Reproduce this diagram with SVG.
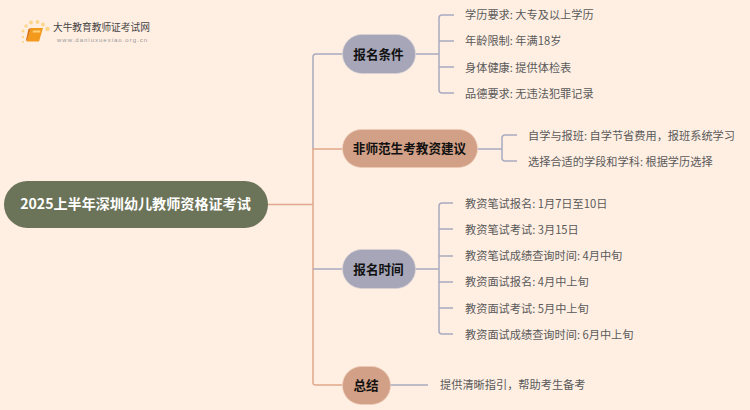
<svg xmlns="http://www.w3.org/2000/svg" width="750" height="410" viewBox="0 0 750 410">
<style>
text{font-family:"Noto Sans CJK SC","Noto Sans",sans-serif}
.leaf{font-size:11.200px;fill:#5a5a5a}
.main{font-size:12.600px;font-weight:700;fill:#111;text-anchor:middle}
.b{fill:none;stroke:#a8aabf;stroke-width:1.5}
.o{fill:none;stroke:#e0a88c;stroke-width:1.5}
.p{fill:#a6a6b8;stroke:#d8d2d6;stroke-width:.7}
.t{fill:#d2a086;stroke:#ecccb8;stroke-width:.7}
</style>
<rect width="750" height="410" fill="#ffefe3"/>
<g id="logo">
<g fill="#fbd58a"><circle cx="23" cy="31" r="1.5"/><circle cx="26" cy="26" r="1.7"/><circle cx="31" cy="22.500" r="1.900"/><circle cx="37.500" cy="22" r="1.900"/><circle cx="43" cy="24.500" r="1.900"/><circle cx="47.500" cy="29" r="2.200"/><circle cx="23" cy="37" r="1.200"/><circle cx="23" cy="42" r="1"/></g>
<path d="M31 28H43L39 41.500H27Z" fill="#f39a1c"/>
<path d="M27 41.500L31 28L28.500 29L26 40Z" fill="#d9720f"/>
<path d="M33 30.500H40.500L40 32.500H32.500Z" fill="#ffd27a"/>
<text x="53" y="31" font-size="9.700" fill="#444">大牛教育教师证考试网</text>
<text x="57" y="41.500" font-size="6" letter-spacing="1" fill="#999" style="font-family:'Liberation Sans',sans-serif">www.daniuxuexiao.org.cn</text>
</g>
<g id="connectors">
<path class="o" d="M268 204.500H313"/>
<path class="b" d="M342 54H316Q313 54 313 57V149"/>
<path class="o" d="M342 149H313V383Q313 385 316 385H342"/>
<path class="b" d="M313 269H342"/>
<path class="b" d="M416 54H439M454 15H442Q439 15 439 18V90Q439 93 442 93H454M439 41H454M439 67H454"/>
<path class="b" d="M478 149H502M517 135H505Q502 135 502 138V158Q502 161 505 161H517"/>
<path class="b" d="M415 269H439M453 203H442Q439 203 439 206V331Q439 334 442 334H453M439 229H453M439 256H453M439 282H453M439 308H453"/>
<path class="b" d="M390 385H428"/>
</g>
<g id="root"><rect x="4" y="181" width="264" height="47" rx="23.500" fill="#6b7358"/><text x="135.500" y="209" font-size="14.100" font-weight="700" fill="#fff" text-anchor="middle">2025上半年深圳幼儿教师资格证考试</text></g>
<g id="n1"><rect class="p" x="342.500" y="34.500" width="73" height="39" rx="19.500"/><text class="main" x="378.500" y="58.500">报名条件</text></g>
<g id="n2"><rect class="t" x="342.500" y="129.500" width="135" height="38" rx="19"/><text class="main" x="409.500" y="153">非师范生考教资建议</text></g>
<g id="n3"><rect class="p" x="342.500" y="249.500" width="73" height="39" rx="19.500"/><text class="main" x="378.500" y="273.500">报名时间</text></g>
<g id="n4"><rect class="t" x="342.500" y="366.500" width="48" height="38" rx="19"/><text class="main" x="366" y="389.500">总结</text></g>
<g id="leaves">
<text class="leaf" x="465" y="19">学历要求: 大专及以上学历</text>
<text class="leaf" x="465" y="45">年龄限制: 年满18岁</text>
<text class="leaf" x="465" y="71.500">身体健康: 提供体检表</text>
<text class="leaf" x="465" y="98">品德要求: 无违法犯罪记录</text>
<text class="leaf" x="528" y="139.500">自学与报班: 自学节省费用，报班系统学习</text>
<text class="leaf" x="528" y="165.500">选择合适的学段和学科: 根据学历选择</text>
<text class="leaf" x="465" y="207.500">教资笔试报名: 1月7日至10日</text>
<text class="leaf" x="465" y="233.500">教资笔试考试: 3月15日</text>
<text class="leaf" x="465" y="260">教资笔试成绩查询时间: 4月中旬</text>
<text class="leaf" x="465" y="286">教资面试报名: 4月中上旬</text>
<text class="leaf" x="465" y="312.500">教资面试考试: 5月中上旬</text>
<text class="leaf" x="465" y="339">教资面试成绩查询时间: 6月中上旬</text>
<text class="leaf" x="440" y="389">提供清晰指引，帮助考生备考</text>
</g>
</svg>
